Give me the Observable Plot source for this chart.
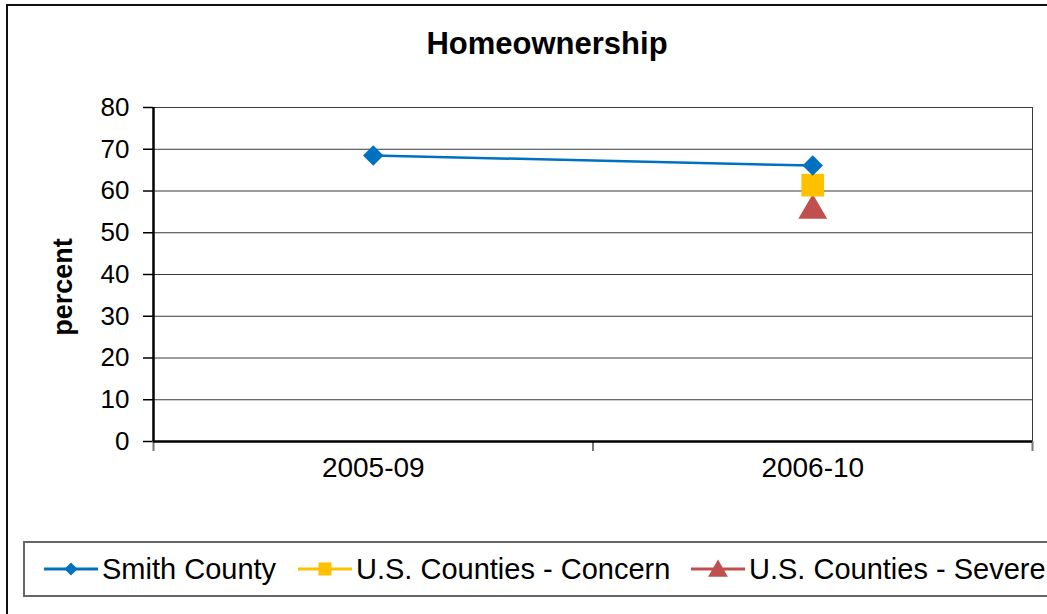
<!DOCTYPE html>
<html><head><meta charset="utf-8">
<script src="https://cdn.jsdelivr.net/npm/d3@7"></script>
<script src="https://cdn.jsdelivr.net/npm/@observablehq/plot@0.6"></script>
<style>
body{margin:0;background:#fff;font-family:"Liberation Sans",Arial,sans-serif;}
#wrap{position:relative;width:1047px;height:614px;overflow:hidden;background:#fff;}
#frame{position:absolute;left:6px;top:4px;width:1200px;height:800px;border:2px solid #111;box-sizing:border-box;}
#title{position:absolute;left:0;width:1094px;top:26px;text-align:center;font-weight:bold;font-size:31px;color:#000;}
#ylabel{position:absolute;left:63px;top:287px;transform:translate(-50%,-50%) rotate(-90deg);font-weight:bold;font-size:27px;color:#000;white-space:nowrap;}
#chart{position:absolute;left:0;top:0;}
#legend{position:absolute;left:23px;top:541px;width:1200px;height:56px;border:2px solid #666;box-sizing:border-box;}
.item{position:absolute;top:0;height:52px;display:flex;align-items:center;white-space:nowrap;}
.item span{font-size:29px;color:#000;margin-left:3px;}
</style></head><body>
<div id="wrap">
 <div id="frame"></div>
 <div id="chart"></div>
 <div id="title">Homeownership</div>
 <div id="ylabel">percent</div>
 <div id="legend"></div>
</div>
<script>
const categories = ["2005-09", "2006-10"];
const smithCounty = [68.5, 66.1];
const usConcern = [null, 61.4];
const usSevere = [null, 55.8];
const yTicks = [0, 10, 20, 30, 40, 50, 60, 70, 80];
const seriesNames = ["Smith County", "U.S. Counties - Concern", "U.S. Counties - Severe"];
const seriesColors = ["#0070C0", "#FFC000", "#C0504D"];

const rows = (vals, s) => categories.map((c, i) => ({cat: c, idx: i + 0.5, value: vals[i], series: s})).filter(d => d.value != null);
const smithRows = rows(smithCounty, seriesNames[0]);
const concernRows = rows(usConcern, seriesNames[1]);
const severeRows = rows(usSevere, seriesNames[2]);
const boundaries = d3.range(categories.length + 1);
const centers = categories.map((c, i) => i + 0.5);

const chart = Plot.plot({
  width: 1047,
  height: 500,
  marginLeft: 153,
  marginRight: 15,
  marginTop: 107,
  marginBottom: 59,
  x: {domain: [0, categories.length]},
  y: {domain: [0, 80]},
  style: {fontFamily: "'Liberation Sans', Arial, sans-serif", fontSize: "26px", color: "#000", background: "transparent", overflow: "visible"},
  marks: [
    Plot.gridY(yTicks.filter(t => t > 0), {stroke: "#3a3a3a", strokeOpacity: 1, strokeWidth: 1}),
    Plot.frame({stroke: "#3a3a3a", strokeWidth: 1}),
    Plot.axisY(yTicks, {tickSize: 10, tickPadding: 14, fontSize: 26, label: null, stroke: "#000", strokeWidth: 1.5}),
    Plot.axisX(boundaries, {tickSize: 10, tickFormat: () => "", label: null, stroke: "#777", strokeWidth: 2}),
    Plot.axisX(centers, {tickSize: 0, tickPadding: 16, fontSize: 28, label: null, tickFormat: (d) => categories[Math.floor(d)]}),
    Plot.ruleY([0], {stroke: "#000", strokeWidth: 2.5}),
    Plot.ruleX([0], {stroke: "#000", strokeWidth: 2.5}),
    Plot.lineY(smithRows, {x: "idx", y: "value", stroke: seriesColors[0], strokeWidth: 2.5}),
    Plot.dot(severeRows, {x: "idx", y: "value", symbol: "triangle", r: 10.7, fill: seriesColors[2], dy: 2}),
    Plot.dot(concernRows, {x: "idx", y: "value", symbol: "square", r: 12.8, fill: seriesColors[1]}),
    Plot.dot(smithRows, {x: "idx", y: "value", symbol: "diamond2", r: 9.2, fill: seriesColors[0]})
  ]
});
document.getElementById("chart").appendChild(chart);

// legend
const legendLefts = [18, 272, 665];
const symbolPaths = [
  d3.symbol(d3.symbolDiamond2, 110)(),
  d3.symbol(d3.symbolSquare, 170)(),
  d3.symbol(d3.symbolTriangle, 170)()
];
const legend = document.getElementById("legend");
seriesNames.forEach((name, i) => {
  const item = document.createElement("div");
  item.className = "item";
  item.style.left = legendLefts[i] + "px";
  item.innerHTML = `<svg width="56" height="30" viewBox="0 0 56 30"><line x1="1" x2="55" y1="15" y2="15" stroke="${seriesColors[i]}" stroke-width="3"/><path d="${symbolPaths[i]}" transform="translate(28,${i === 2 ? 17 : 15})" fill="${seriesColors[i]}"/></svg><span>${name}</span>`;
  legend.appendChild(item);
});
</script>
</body></html>
